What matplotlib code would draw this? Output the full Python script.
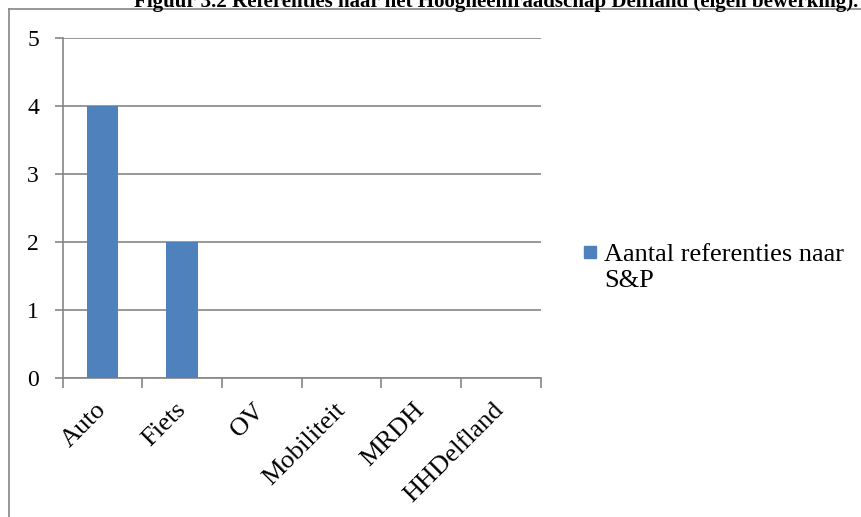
import matplotlib.pyplot as plt
from matplotlib.lines import Line2D
from matplotlib.patches import Rectangle

categorieen = ["Auto", "Fiets", "OV", "Mobiliteit", "MRDH", "HHDelfland"]
aantallen = [4, 2, 0, 0, 0, 0]
reeks_naam = "Aantal referenties naar\nS&P"
titel = "Figuur 3.2 Referenties naar het Hoogheemraadschap Delfland (eigen bewerking)."

BLAUW = "#4F81BD"
GRIJS = "#868686"

plt.rcParams["font.family"] = ["Liberation Serif", "DejaVu Serif"]

fig = plt.figure(figsize=(8.61, 5.17), dpi=100)
ax = fig.add_axes([0.0728, 0.2698, 0.5550, 0.6562])

posities = list(range(len(categorieen)))
ax.bar(posities, aantallen, width=0.4, color=BLAUW, zorder=3)

ax.set_xlim(-0.5, len(categorieen) - 0.5)
ax.set_ylim(0, 5)
ax.set_yticks(range(0, 6))
ax.yaxis.grid(True, color=GRIJS, linewidth=1.2, zorder=0)

# tickstreepjes op de grenzen tussen categorieen, labels in het midden
ax.set_xticks([p - 0.5 for p in posities] + [len(categorieen) - 0.5])
ax.set_xticklabels([])
ax.set_xticks(posities, minor=True)
ax.set_xticklabels(categorieen, minor=True, rotation=45, ha="right", va="center",
                   rotation_mode="anchor", fontsize=19)
ax.tick_params(axis="x", which="minor", length=0, pad=21)
ax.tick_params(axis="x", which="major", length=7, width=1.2, color=GRIJS)
ax.tick_params(axis="y", length=6, width=1.2, color=GRIJS, labelsize=17, pad=11)

for kant in ["top", "right"]:
    ax.spines[kant].set_visible(False)
for kant in ["left", "bottom"]:
    ax.spines[kant].set_color(GRIJS)
    ax.spines[kant].set_linewidth(1.2)

# legenda: blokje naast de eerste regel van de reeksnaam
fig.add_artist(Rectangle((584 / 861, 1 - 258 / 517), 12 / 861, 12 / 517,
                         transform=fig.transFigure, color=BLAUW))
fig.text(604 / 861, 1 - 287 / 517, reeks_naam, ha="left", va="baseline",
         fontsize=19, linespacing=1.25)

# kader rond de grafiek en de titel erboven
fig.add_artist(Line2D([0.011, 0.011], [0, 1 - 9 / 517], color=GRIJS, linewidth=1.2))
fig.add_artist(Line2D([0.011, 1], [1 - 9 / 517, 1 - 9 / 517], color=GRIJS, linewidth=1.2))
fig.text(858 / 861, 1 - 6.5 / 517, titel, ha="right", va="baseline",
         fontsize=15.1, fontweight="bold")

fig.savefig("out.png", dpi=100)
